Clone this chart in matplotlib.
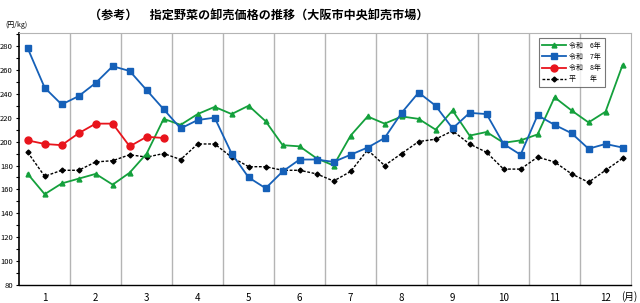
import numpy as np
import matplotlib.pyplot as plt
from matplotlib.ticker import MultipleLocator

plt.rcParams['font.family'] = ['Noto Sans CJK JP', 'DejaVu Sans']

# 上・中・下旬ごとの価格（円/kg）
months = ['1', '2', '3', '4', '5', '6', '7', '8', '9', '10', '11', '12']
r6 = [173, 156, 165, 169, 173, 164, 174, 190, 219, 214, 223, 229,
      223, 230, 217, 197, 196, 186, 180, 205, 221, 215, 221, 219,
      210, 226, 205, 208, 199, 201, 206, 237, 226, 216, 225, 264]
r7 = [278, 245, 231, 238, 249, 263, 259, 243, 227, 211, 218, 220,
      190, 170, 161, 175, 185, 185, 183, 189, 195, 203, 224, 241,
      230, 211, 224, 223, 198, 189, 222, 214, 207, 194, 198, 195]
r8 = [201, 198, 197, 207, 215, 215, 196, 204, 203]
heinen = [191, 171, 176, 176, 183, 184, 189, 187, 190, 185, 198, 198,
          187, 179, 179, 176, 176, 173, 167, 175, 193, 180, 190, 200,
          202, 209, 198, 191, 177, 177, 187, 183, 173, 166, 176, 186]
labels = ['令和　6年', '令和　7年', '令和　8年', '平　　年']

x_all = np.arange(len(r6)) + 0.5
x_r8 = np.arange(len(r8)) + 0.5

fig = plt.figure(figsize=(6.4, 3.03), dpi=100)
ax = fig.add_axes([0.030, 0.059, 0.956, 0.833])

for m in range(3, 36, 3):
    ax.axvline(m, color='#b4b4b4', linewidth=1.0, zorder=1)

ax.plot(x_all, r6, color='#14a03c', marker='^', markersize=3.5,
        linewidth=1.3, label=labels[0], zorder=3)
ax.plot(x_all, r7, color='#1560b8', marker='s', markersize=3.8,
        linewidth=1.3, label=labels[1], zorder=3)
ax.plot(x_r8, r8, color='#e8141c', marker='o', markersize=5,
        linewidth=1.3, label=labels[2], zorder=4)
ax.plot(x_all, heinen, color='black', marker='D', markersize=2.5,
        linewidth=1.0, linestyle=(0, (2, 1.2)), label=labels[3], zorder=2)

ax.set_xlim(0, 36)
ax.set_ylim(80, 291)
ax.yaxis.set_major_locator(MultipleLocator(20))
ax.yaxis.set_minor_locator(MultipleLocator(10))
ax.tick_params(axis='y', which='both', direction='out', labelsize=5.5,
               length=2.5, width=0.8, pad=2)
ax.set_xticks(np.arange(1.5, 36, 3))
ax.set_xticklabels(months, fontsize=7)
ax.tick_params(axis='x', length=0, pad=6)

for side in ['top', 'right']:
    ax.spines[side].set_color('#b4b4b4')
ax.spines['left'].set_linewidth(1.2)
ax.spines['bottom'].set_linewidth(1.0)

leg = ax.legend(loc='upper right', bbox_to_anchor=(0.957, 0.978),
                fontsize=5, frameon=True, fancybox=False,
                edgecolor='#555555', handlelength=3.4, handletextpad=0.5,
                borderpad=0.5, labelspacing=0.45, borderaxespad=0)
leg.get_frame().set_linewidth(0.8)

fig.text(0.405, 0.947, '（参考）　指定野菜の卸売価格の推移（大阪市中央卸売市場）',
         ha='center', va='center', fontsize=8.7, fontweight='bold')
fig.text(0.008, 0.918, '(円/kg)', fontsize=5, ha='left', va='center')
fig.text(0.996, 0.02, '(月)', fontsize=7, ha='right', va='center')

plt.savefig('out.png', dpi=100)
plt.close()
